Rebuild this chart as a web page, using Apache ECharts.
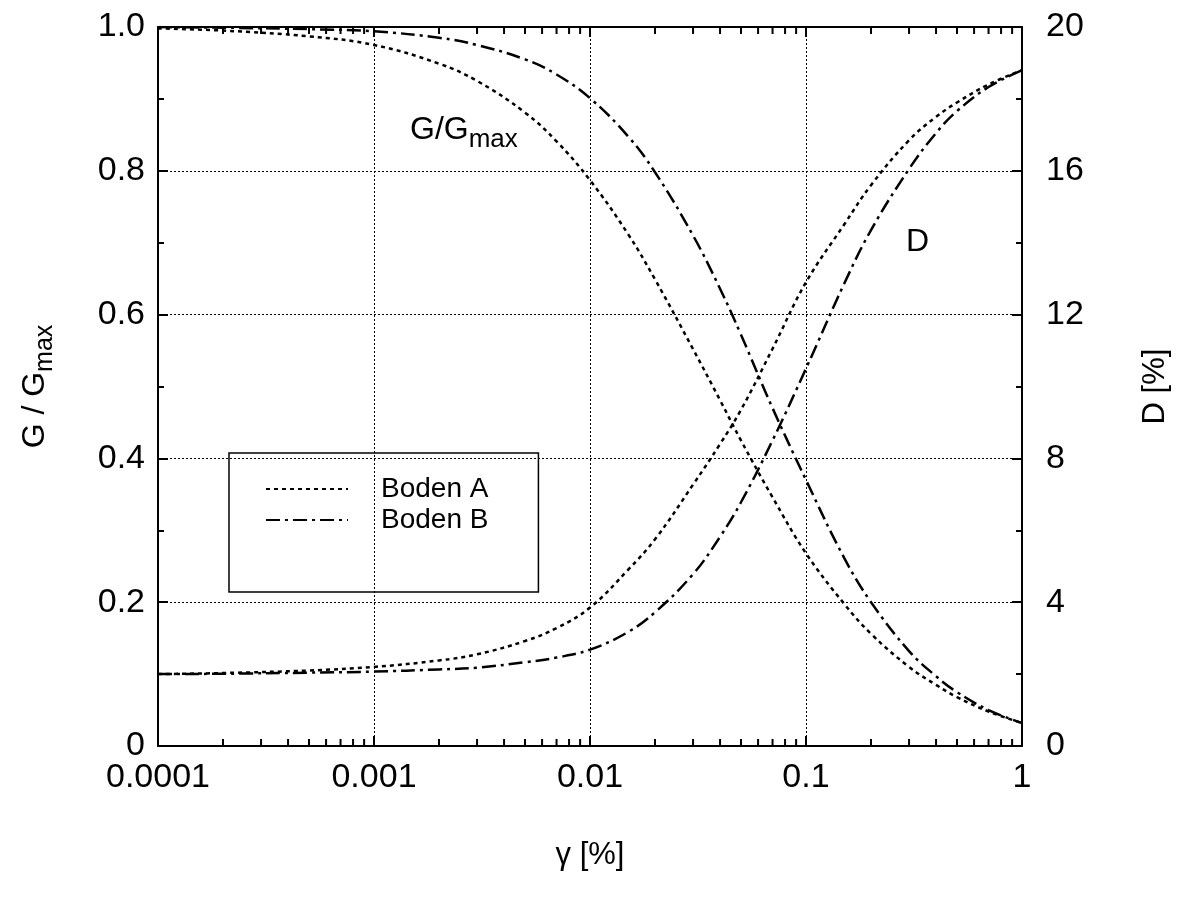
<!DOCTYPE html>
<html>
<head>
<meta charset="utf-8">
<script src="https://cdn.jsdelivr.net/npm/echarts@6/dist/echarts.min.js"></script>
<style>
html,body{margin:0;padding:0;background:#fff;}
#chart{width:1187px;height:904px;}
</style>
</head>
<body>
<div id="chart"></div>
<script>
// ---- data ----
const gamma = [0.0001, 0.0002, 0.0005, 0.001, 0.002, 0.003, 0.005, 0.007, 0.01, 0.015, 0.02, 0.03, 0.04, 0.05, 0.07, 0.1, 0.15, 0.2, 0.3, 0.4, 0.5, 0.7, 1];
const gA = [0.998, 0.995, 0.987, 0.975, 0.949, 0.925, 0.881, 0.841, 0.787, 0.712, 0.649, 0.552, 0.481, 0.425, 0.346, 0.268, 0.198, 0.156, 0.110, 0.085, 0.068, 0.048, 0.032];
const gB = [1.0, 0.999, 0.997, 0.994, 0.985, 0.975, 0.955, 0.934, 0.901, 0.848, 0.798, 0.710, 0.636, 0.572, 0.470, 0.370, 0.262, 0.200, 0.132, 0.097, 0.075, 0.050, 0.032];
const dA = [2.0, 2.03, 2.1, 2.2, 2.38, 2.55, 2.92, 3.28, 3.85, 4.9, 5.75, 7.27, 8.4, 9.35, 11.05, 12.9, 14.5, 15.6, 16.85, 17.5, 17.9, 18.4, 18.8];
const dB = [2.0, 2.01, 2.04, 2.07, 2.13, 2.18, 2.33, 2.46, 2.68, 3.17, 3.72, 4.78, 5.82, 6.78, 8.5, 10.5, 12.85, 14.35, 16.05, 17.05, 17.66, 18.33, 18.8];
const seriesNames = ['Boden A', 'Boden B'];
const xTickLabels = ['0.0001', '0.001', '0.01', '0.1', '1'];
const yLeftLabels = ['0', '0.2', '0.4', '0.6', '0.8', '1.0'];
const yRightLabels = ['0', '4', '8', '12', '16', '20'];
const decades = [0.0001, 0.001, 0.01, 0.1];
const minorMultipliers = [2, 3, 4, 5, 6, 7, 8, 9];

const minorX = [];
decades.forEach(d => minorMultipliers.forEach(m => minorX.push([m * d, 0])));

const zip = (xs, ys) => xs.map((x, i) => [x, ys[i]]);

const FONT = 'Liberation Sans';
const dashA = [4, 4];
const dashB = [14, 5, 3, 5];

const chart = echarts.init(document.getElementById('chart'));
const option = {
  backgroundColor: '#fff',
  animation: false,
  textStyle: { fontFamily: FONT, color: '#000' },
  grid: { left: 158, right: 165, top: 27, bottom: 158 },
  legend: {
    data: seriesNames,
    orient: 'vertical',
    left: 229,
    top: 453,
    borderColor: '#000',
    borderWidth: 1.5,
    padding: [22, 50, 58, 36],
    itemWidth: 82,
    itemHeight: 14,
    itemGap: 3,
    itemStyle: { color: 'rgba(0,0,0,0)', borderWidth: 0 },
    textStyle: { fontFamily: FONT, fontSize: 28, color: '#000', lineHeight: 26, padding: [0, 0, 0, 28] }
  },
  xAxis: [
    {
      type: 'log', logBase: 10, min: 0.0001, max: 1, position: 'bottom',
      axisLine: { show: true, onZero: false, lineStyle: { color: '#000', width: 2 } },
      axisTick: { show: true, inside: true, length: 10, lineStyle: { color: '#000', width: 2 } },
      axisLabel: { fontFamily: FONT, fontSize: 34, color: '#000', margin: 15,
        formatter: v => xTickLabels[Math.round(Math.log10(v)) + 4] },
      splitLine: { show: true, lineStyle: { color: '#000', width: 1, type: [2, 2] } },
      name: 'γ [%]', nameLocation: 'middle', nameGap: 94,
      nameTextStyle: { fontFamily: FONT, fontSize: 31, color: '#000' }
    },
    {
      type: 'log', logBase: 10, min: 0.0001, max: 1, position: 'top',
      axisLine: { show: true, onZero: false, lineStyle: { color: '#000', width: 2 } },
      axisTick: { show: true, inside: true, length: 10, lineStyle: { color: '#000', width: 2 } },
      axisLabel: { show: false },
      splitLine: { show: false }
    }
  ],
  yAxis: [
    {
      type: 'value', min: 0, max: 1, interval: 0.2, position: 'left',
      axisLine: { show: true, lineStyle: { color: '#000', width: 2 } },
      axisTick: { show: true, inside: true, length: 10, lineStyle: { color: '#000', width: 2 } },
      minorTick: { show: true, splitNumber: 2, length: 6, lineStyle: { color: '#000', width: 2 } },
      axisLabel: { fontFamily: FONT, fontSize: 34, color: '#000', margin: 13,
        formatter: v => yLeftLabels[Math.round(v / 0.2)] },
      splitLine: { show: true, lineStyle: { color: '#000', width: 1, type: [2, 2] } },
      name: '{a|G / G}{b|max}', nameLocation: 'middle', nameGap: 100, nameRotate: 90,
      nameTextStyle: {
        rich: {
          a: { fontFamily: FONT, fontSize: 32, color: '#000', lineHeight: 46, verticalAlign: 'middle' },
          b: { fontFamily: FONT, fontSize: 25, color: '#000', lineHeight: 25, verticalAlign: 'bottom' }
        }
      }
    },
    {
      type: 'value', min: 0, max: 20, interval: 4, position: 'right',
      axisLine: { show: true, lineStyle: { color: '#000', width: 2 } },
      axisTick: { show: true, inside: true, length: 10, lineStyle: { color: '#000', width: 2 } },
      minorTick: { show: true, splitNumber: 2, length: 6, lineStyle: { color: '#000', width: 2 } },
      axisLabel: { fontFamily: FONT, fontSize: 34, color: '#000', margin: 24,
        formatter: v => yRightLabels[Math.round(v / 4)] },
      splitLine: { show: false },
      name: 'D [%]', nameLocation: 'middle', nameGap: 118, nameRotate: 90,
      nameTextStyle: { fontFamily: FONT, fontSize: 31, color: '#000' }
    }
  ],
  graphic: [
    {
      type: 'text', left: 410, top: 114,
      style: {
        text: '{a|G/G}{b|max}',
        rich: {
          a: { fontFamily: FONT, fontSize: 32, fill: '#000', lineHeight: 46, verticalAlign: 'middle' },
          b: { fontFamily: FONT, fontSize: 26, fill: '#000', lineHeight: 26, verticalAlign: 'bottom' }
        }
      }
    },
    {
      type: 'text', left: 906, top: 226,
      style: { text: 'D', fontFamily: FONT, fontSize: 32, fill: '#000' }
    }
  ],
  series: [
    {
      name: 'Boden A', type: 'line', xAxisIndex: 0, yAxisIndex: 0,
      data: zip(gamma, gA), symbol: 'none', smooth: 0.4,
      lineStyle: { color: '#000', width: 2.5, type: dashA }, itemStyle: { color: '#000' }
    },
    {
      name: 'Boden A', type: 'line', xAxisIndex: 0, yAxisIndex: 1,
      data: zip(gamma, dA), symbol: 'none', smooth: 0.4,
      lineStyle: { color: '#000', width: 2.5, type: dashA }, itemStyle: { color: '#000' }
    },
    {
      name: 'Boden B', type: 'line', xAxisIndex: 0, yAxisIndex: 0,
      data: zip(gamma, gB), symbol: 'none', smooth: 0.4,
      lineStyle: { color: '#000', width: 2.5, type: dashB }, itemStyle: { color: '#000' }
    },
    {
      name: 'Boden B', type: 'line', xAxisIndex: 0, yAxisIndex: 1,
      data: zip(gamma, dB), symbol: 'none', smooth: 0.4,
      lineStyle: { color: '#000', width: 2.5, type: dashB }, itemStyle: { color: '#000' }
    },
    {
      name: 'minorTicks', type: 'custom', xAxisIndex: 0, yAxisIndex: 0,
      data: minorX, silent: true, clip: false,
      renderItem: function (params, api) {
        const b = api.coord([api.value(0), 0]);
        const t = api.coord([api.value(0), 1]);
        return {
          type: 'group',
          children: [
            { type: 'line', shape: { x1: b[0], y1: b[1], x2: b[0], y2: b[1] - 7 }, style: { stroke: '#000', lineWidth: 2 } },
            { type: 'line', shape: { x1: t[0], y1: t[1], x2: t[0], y2: t[1] + 7 }, style: { stroke: '#000', lineWidth: 2 } }
          ]
        };
      }
    }
  ]
};
chart.setOption(option);
</script>
</body>
</html>
